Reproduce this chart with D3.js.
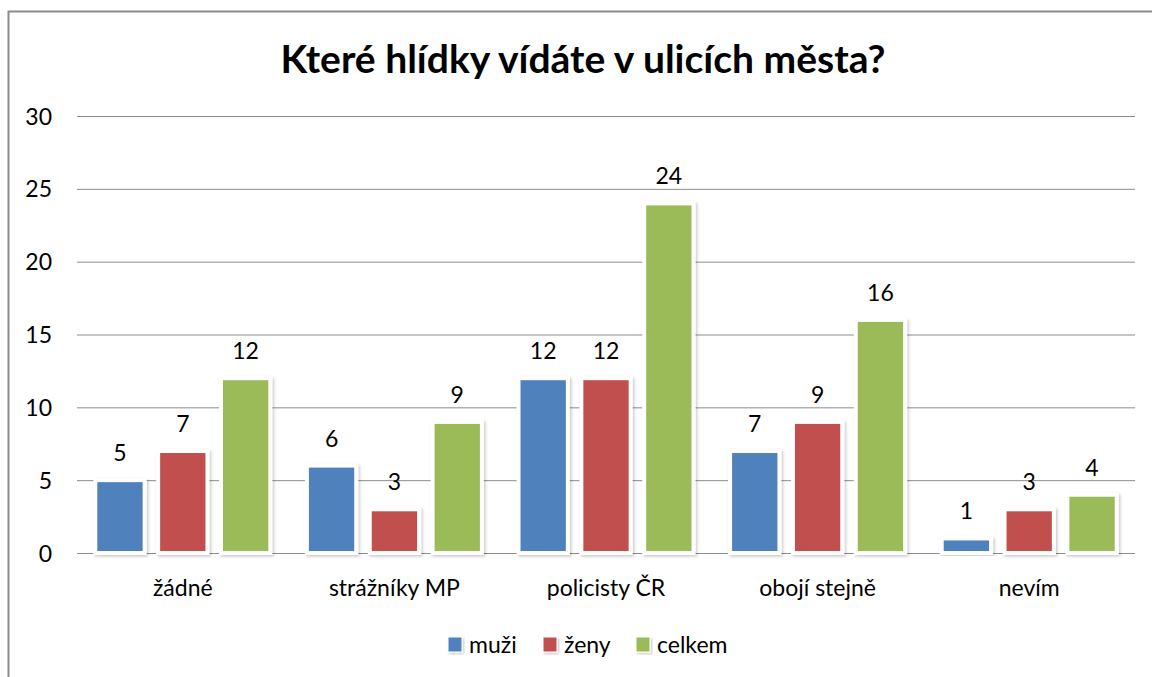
<!DOCTYPE html>
<html><head><meta charset="utf-8">
<script src="https://cdn.jsdelivr.net/npm/d3@7"></script>
<style>body{margin:0;background:#fff}svg{display:block}</style>
</head><body>
<svg id="c" width="1152" height="677"></svg>
<script>
const categories = ["žádné", "strážníky MP", "policisty ČR", "obojí stejně", "nevím"];
const seriesNames = ["muži", "ženy", "celkem"];
const muzi = [5, 6, 12, 7, 1];
const zeny = [7, 3, 12, 9, 3];
const celkem = [12, 9, 24, 16, 4];
const yTicks = [0, 5, 10, 15, 20, 25, 30];
const colors = ["#4F81BD", "#C0504D", "#9BBB59"];
const title = "Které hlídky vídáte v ulicích města?";

const values = [muzi, zeny, celkem];
const svg = d3.select("#c");
const font = "Lato, 'Open Sans', sans-serif";
const fs = 23;

const defs = svg.append("defs");
const f = defs.append("filter").attr("id","sh").attr("x","-20%").attr("y","-10%").attr("width","140%").attr("height","130%");
f.append("feDropShadow").attr("dx",1.5).attr("dy",1.5).attr("stdDeviation",1.5).attr("flood-color","#000").attr("flood-opacity",0.22);

// outer border
svg.append("path").attr("d","M8.5,677 L8.5,11.5 L1152,11.5").attr("fill","none").attr("stroke","#8c8c8c").attr("stroke-width",2);

const x0 = 77, x1 = 1135, yTop = 116, yBot = 553;
const x = d3.scaleBand().domain(categories).range([x0, x1]).paddingInner(0).paddingOuter(0);
const y = d3.scaleLinear().domain([0, 30]).range([yBot, yTop]);

// gridlines
svg.append("g").selectAll("line").data(yTicks).join("line")
  .attr("x1", x0).attr("x2", x1).attr("y1", d => y(d) + 0.5).attr("y2", d => y(d) + 0.5)
  .attr("stroke", "#8c8c8c").attr("stroke-width", 1);

// y axis labels
const yAxis = d3.axisLeft(y).tickValues(yTicks).tickSize(0).tickPadding(0);
const ga = svg.append("g").attr("transform", `translate(52,0)`).call(yAxis);
ga.select(".domain").remove();
ga.selectAll("text").attr("font-family", font).attr("font-size", fs).attr("fill", "#000").attr("text-anchor","end").attr("dy","0.35em");

// x axis labels
const xAxis = d3.axisBottom(x).tickSize(0).tickPadding(0);
const gx = svg.append("g").attr("transform", `translate(0,${yBot + 43})`).call(xAxis);
gx.select(".domain").remove();
gx.selectAll("text").attr("font-family", font).attr("font-size", fs).attr("fill", "#000").attr("dy","0");

const groupW = 175;
const inner = d3.scaleBand().domain(seriesNames).range([0, groupW]).paddingInner(0.215).paddingOuter(0);
const bw = x.bandwidth();
const bars = [];
categories.forEach((c, i) => {
  seriesNames.forEach((s, j) => bars.push({c, s, j, v: values[j][i]}));
});
const bx = d => x(d.c) + (bw - groupW) / 2 + inner(d.s);

svg.append("g").selectAll("rect").data(bars).join("rect")
  .attr("x", bx)
  .attr("y", d => y(d.v))
  .attr("width", inner.bandwidth())
  .attr("height", d => y(0) - y(d.v))
  .attr("fill", d => colors[d.j])
  .attr("stroke", "#fff").attr("stroke-width", 4)
  .attr("filter", "url(#sh)");

svg.append("g").selectAll("text").data(bars).join("text")
  .attr("x", d => bx(d) + inner.bandwidth() / 2)
  .attr("y", d => y(d.v) - 19)
  .attr("text-anchor", "middle")
  .attr("font-family", font).attr("font-size", fs).attr("fill", "#000")
  .text(d => d.v);

// title
svg.append("text").attr("x", 583).attr("y", 73).attr("text-anchor", "middle")
  .attr("font-family", font).attr("font-weight", "bold").attr("font-size", 39).attr("fill", "#000")
  .text(title);

// legend
const legX = [448, 543, 636];
const lg = svg.append("g");
seriesNames.forEach((s, j) => {
  lg.append("rect").attr("x", legX[j]).attr("y", 637).attr("width", 14).attr("height", 15)
    .attr("fill", colors[j]).attr("stroke","#fff").attr("stroke-width",1).attr("filter","url(#sh)");
  lg.append("text").attr("x", legX[j] + 21).attr("y", 653).attr("font-family", font).attr("font-size", fs).attr("fill","#000").text(s);
});
</script>
</body></html>
